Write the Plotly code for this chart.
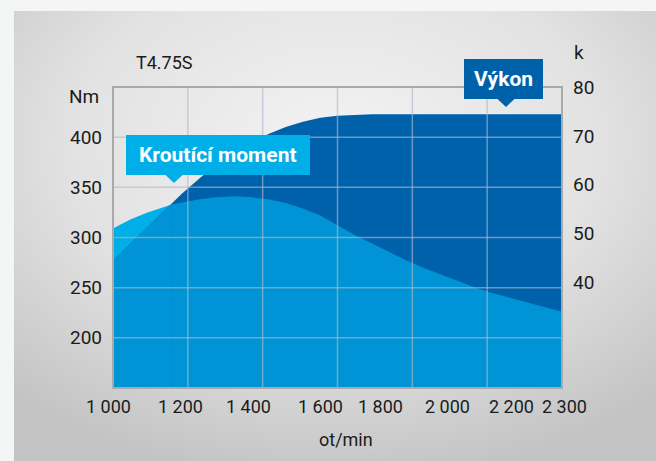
import base64
import plotly.graph_objects as go

# ---------------- data ----------------
rpm = [1000, 1050, 1100, 1150, 1170, 1200, 1250, 1300, 1350, 1400, 1450, 1500,
       1550, 1600, 1650, 1700, 1750, 1800, 1850, 1900, 1950, 2000, 2050, 2100,
       2150, 2200, 2250, 2300]
torque_nm = [309, 318, 325, 331, 333, 335, 338, 340, 341, 340, 338, 334.5,
             329, 322, 312, 302.5, 294, 285.5, 277, 269.5, 263, 256.5, 250, 244.5,
             240, 235.5, 230.5, 226]
power_kw = [44.5, 47.9, 51.3, 54.7, 56.1, 58.2, 61.3, 64.2, 66.6, 68.6, 70.4, 71.8,
            72.9, 73.7, 74.1, 74.3, 74.4, 74.4, 74.4, 74.4, 74.4, 74.4, 74.4, 74.4,
            74.4, 74.4, 74.4, 74.4]
cross_rpm = 1170  # where the power curve overtakes the torque curve

x_tick_labels = ["1 000", "1 200", "1 400", "1 600", "1 800", "2 000", "2 200", "2 300"]
nm_ticks = [200, 250, 300, 350, 400]
kw_ticks = [40, 50, 60, 70, 80]

title_text = "T4.75S"
torque_label = "Kroutící moment"
power_label = "Výkon"

# ---------------- layout constants ----------------
W, H = 656, 461
PL, PR, PT, PB = 113, 562, 87, 388   # plot area in pixels
NM_RANGE = [150, 450]
KW_RANGE = [18.4, 80]
FONT = "Roboto"
INK = "#1b1b1b"
C_DARK = "#0061ab"
C_MED = "#0094d6"
C_CYAN = "#00aee8"
C_GRID = "rgba(172,186,204,0.62)"
C_BORDER = "#a9a9a9"
x_label_px = [108, 180, 248, 320, 380, 447, 511, 564]  # label centres as printed


def px2x(px):
    return (px - PL) / (PR - PL)


def py2y(py):
    return (PB - py) / (PB - PT)


i_cross = rpm.index(cross_rpm)

fig = go.Figure()
# torque region - cyan (only visible where torque is above power)
fig.add_trace(go.Scatter(x=rpm, y=torque_nm, fill="tozeroy", mode="lines",
                         line=dict(width=0), fillcolor=C_CYAN, yaxis="y",
                         hoverinfo="skip", showlegend=False))
# power region - dark blue
fig.add_trace(go.Scatter(x=rpm, y=power_kw, fill="tozeroy", mode="lines",
                         line=dict(width=0), fillcolor=C_DARK, yaxis="y2",
                         hoverinfo="skip", showlegend=False))
# overlap region (below both curves) - medium blue
fig.add_trace(go.Scatter(x=rpm[:i_cross + 1], y=power_kw[:i_cross + 1], fill="tozeroy",
                         mode="lines", line=dict(width=0), fillcolor=C_MED,
                         yaxis="y2", hoverinfo="skip", showlegend=False))
fig.add_trace(go.Scatter(x=rpm[i_cross:], y=torque_nm[i_cross:], fill="tozeroy",
                         mode="lines", line=dict(width=0), fillcolor=C_MED,
                         yaxis="y3", hoverinfo="skip", showlegend=False))

# ---------------- background gradient ----------------
bw, bh = W - 14, H - 11
svg = (f'<svg xmlns="http://www.w3.org/2000/svg" width="{bw}" height="{bh}" '
       f'viewBox="0 0 {bw} {bh}" preserveAspectRatio="none">'
       '<defs><radialGradient id="g" cx="0.5" cy="0.3" r="0.75">'
       '<stop offset="0" stop-color="#f3f3f3"/>'
       '<stop offset="0.55" stop-color="#e2e2e2"/>'
       '<stop offset="1" stop-color="#c3c3c3"/>'
       '</radialGradient></defs>'
       f'<rect width="{bw}" height="{bh}" fill="url(#g)"/></svg>')
src = "data:image/svg+xml;base64," + base64.b64encode(svg.encode()).decode()
images = [dict(source=src, xref="paper", yref="paper", x=px2x(14), y=py2y(11),
               sizex=bw / (PR - PL), sizey=bh / (PB - PT), sizing="stretch",
               xanchor="left", yanchor="top", layer="below")]

# ---------------- grid & frame (drawn above the fills) ----------------
shapes = []
for k in range(1, 6):
    shapes.append(dict(type="line", xref="paper", yref="paper", x0=k / 6, x1=k / 6,
                       y0=0, y1=1, line=dict(color=C_GRID, width=1.5), layer="above"))
for v in nm_ticks:
    shapes.append(dict(type="line", xref="paper", yref="y", x0=0, x1=1, y0=v, y1=v,
                       line=dict(color=C_GRID, width=1.5), layer="above"))
shapes.append(dict(type="rect", xref="paper", yref="paper", x0=0, x1=1, y0=0, y1=1,
                   line=dict(color=C_BORDER, width=2), layer="above"))


def box(x0, y0, x1, y1, color):
    return dict(type="rect", xref="paper", yref="paper", x0=px2x(x0), x1=px2x(x1),
                y0=py2y(y1), y1=py2y(y0), fillcolor=color, line=dict(width=0),
                layer="above")


def pointer(xl, xr, ybase, xt, yt, color):
    path = (f"M {px2x(xl)},{py2y(ybase)} L {px2x(xr)},{py2y(ybase)} "
            f"L {px2x(xt)},{py2y(yt)} Z")
    return dict(type="path", xref="paper", yref="paper", path=path, fillcolor=color,
                line=dict(width=0), layer="above")


shapes += [box(126, 135, 310, 175, C_CYAN), pointer(165, 183, 174.5, 174, 183, C_CYAN),
           box(464, 59, 543, 99, C_DARK), pointer(497, 515, 98.5, 506, 107, C_DARK)]

# ---------------- texts ----------------
ann = []
for lab, px in zip(x_tick_labels, x_label_px):
    ann.append(dict(text=lab, x=px2x(px), y=py2y(406), xref="paper", yref="paper",
                    xanchor="center", yanchor="middle", showarrow=False,
                    font=dict(family=FONT, size=18, color=INK)))
extra = [
    dict(text=title_text, x=px2x(134), y=py2y(63), xanchor="left", yanchor="middle",
         font=dict(family=FONT, size=18, color=INK)),
    dict(text="Nm", x=px2x(101), y=py2y(96), xanchor="right", yanchor="middle",
         font=dict(family=FONT, size=19, color=INK)),
    dict(text="k", x=px2x(572), y=py2y(52), xanchor="left", yanchor="middle",
         font=dict(family=FONT, size=19, color=INK)),
    dict(text="ot/min", x=px2x(346), y=py2y(439), xanchor="center", yanchor="middle",
         font=dict(family=FONT, size=18, color=INK)),
    dict(text=torque_label, x=px2x(218), y=py2y(155), xanchor="center", yanchor="middle",
         font=dict(family=FONT, size=21, color="white", weight="bold")),
    dict(text=power_label, x=px2x(503.5), y=py2y(79), xanchor="center", yanchor="middle",
         font=dict(family=FONT, size=21, color="white", weight="bold")),
]
for a in extra:
    a.update(xref="paper", yref="paper", showarrow=False)
ann += extra

hidden = dict(showticklabels=False, showgrid=False, zeroline=False, showline=False,
              ticks="", fixedrange=True)

fig.update_layout(
    width=W, height=H, autosize=False,
    margin=dict(l=PL, r=W - PR, t=PT, b=H - PB, pad=0),
    paper_bgcolor="#f4f6f5", plot_bgcolor="rgba(0,0,0,0)",
    showlegend=False, hovermode=False,
    images=images, shapes=shapes, annotations=ann,
    xaxis=dict(range=[rpm[0], rpm[-1]], **hidden),
    yaxis=dict(range=NM_RANGE, tickvals=nm_ticks, showgrid=False, zeroline=False,
               showline=False, ticks="", ticklabelstandoff=10,
               tickfont=dict(family=FONT, size=19, color=INK), fixedrange=True),
    yaxis2=dict(range=KW_RANGE, tickvals=kw_ticks, overlaying="y", side="right",
                showgrid=False, zeroline=False, showline=False, ticks="",
                ticklabelstandoff=10,
                tickfont=dict(family=FONT, size=19, color=INK), fixedrange=True),
    yaxis3=dict(range=NM_RANGE, overlaying="y", **hidden),
)

fig.write_html("out.html", config=dict(displayModeBar=False),
               post_script="document.body.style.margin='0';"
                           "document.body.style.background='#f4f6f5';")
